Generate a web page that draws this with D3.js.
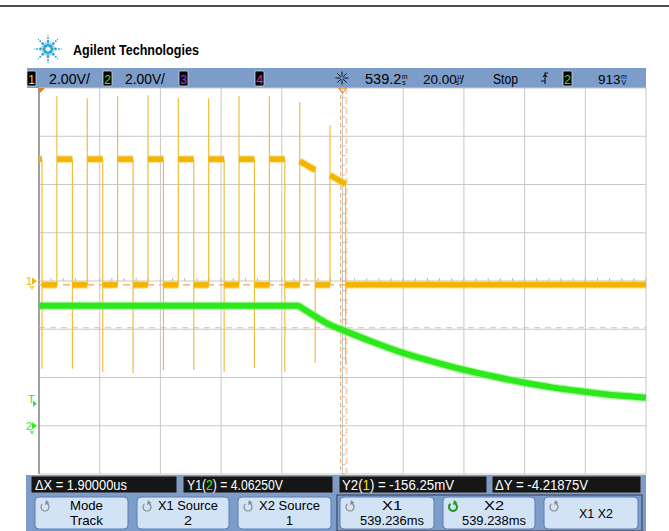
<!DOCTYPE html>
<html><head><meta charset="utf-8">
<script src="https://cdn.jsdelivr.net/npm/d3@7"></script>
<style>body{margin:0;background:#fff}svg{display:block}</style>
</head><body><svg id="c" width="669" height="531"></svg>
<script>
// ---------------- data ----------------
const timeDomain = [-100, 100];          // µs around display centre (539.2 ms), 20 µs/div
const timeTicks = [-100, -80, -60, -40, -20, 0, 20, 40, 60, 80, 100];
const ch1Domain = [-8, 8];               // V, 2.00 V/div, ground at centre
const ch2Domain = [-2, 14];              // V, 2.00 V/div, ground 3 div below centre
const voltTicks1 = [-8, -6, -4, -2, 0, 2, 4, 6, 8];

// channel 1 (yellow): digital clock
const ch1FallT = [-99.0, -89.0, -79.0, -69.0, -59.0, -49.0, -39.0, -29.0, -19.0, -9.0, 1.0];
const ch1RiseT = [-94.1, -84.1, -74.1, -64.1, -54.1, -44.1, -34.1, -24.1, -14.1, -4.1];
const ch1HighStartV = [5.05, 5.05, 5.05, 5.05, 5.05, 5.05, 5.05, 5.05, 4.97, 4.39];
const ch1HighEndV   = [5.05, 5.05, 5.05, 5.05, 5.05, 5.05, 5.05, 5.05, 4.60, 4.02];
const ch1FirstHighV = 5.05;
const ch1LowV = -0.16;
const ch1SpikeTopV = [7.66, 7.58, 7.66, 7.70, 7.58, 7.58, 7.66, 7.66, 7.41, 6.46];
const ch1SpikeBotV = [-3.64, -3.64, -3.77, -3.81, -3.69, -3.69, -3.77, -3.60, -3.77, -3.40, -3.48];

// channel 2 (green): supply decay
const ch2T = [-100, -15.0, -12.4, -8.7, -4.1, -0.2, 9.8, 19.9, 30.1, 40.0, 50.2, 60.1, 70.0, 79.9, 90.1, 100];
const ch2V = [4.97, 4.97, 4.80, 4.51, 4.18, 3.98, 3.48, 3.02, 2.65, 2.32, 2.03, 1.78, 1.57, 1.41, 1.26, 1.16];

const cursorXT = [-0.6, 1.3];       // X1, X2
const cursorY1V = 4.0625;           // on ch2
const cursorY2V = -0.15625;         // on ch1
const trigLevelV = 0.913;           // ch2

const headerScale = ["2.00V/", "2.00V/"];
const headerDelay = ["539.2", "m", "s", ""];
const headerTime = ["20.00", "µ", "s", "/"];
const headerTrig = ["913", "m", "V", ""];
const readouts = [["ΔX = 1.90000us"], ["Y1(", "2", ") = 4.06250V"], ["Y2(", "1", ") = -156.25mV"], ["ΔY = -4.21875V"]];
const softkeys = [["Mode", "Track"], ["X1 Source", "2"], ["X2 Source", "1"], ["X1", "539.236ms"], ["X2", "539.238ms"], ["X1 X2"]];

// ---------------- drawing ----------------
const svg = d3.select("#c");
const FONT = "'Liberation Sans',Arial,sans-serif";
const Y1C = "#f4b400", G = "#2ee81e";

const x = d3.scaleLinear().domain(timeDomain).range([39, 646]);
const y1 = d3.scaleLinear().domain(ch1Domain).range([474, 88]);
const y2 = d3.scaleLinear().domain(ch2Domain).range([474, 88]);

function txt(g, s, px, py, opt = {}) {
  return g.append("text").attr("x", px).attr("y", py).text(s)
    .attr("font-family", opt.family || FONT).attr("font-size", opt.size || 14)
    .attr("fill", opt.fill || "#000").attr("font-weight", opt.weight || "normal")
    .attr("text-anchor", opt.anchor || "start");
}
// horizontally condensed text: parts = [[string, colour], ...], squeezed to width w
function fit(g, parts, px, py, w, opt = {}) {
  const t = g.append("text").attr("x", 0).attr("y", 0)
    .attr("font-family", FONT).attr("font-size", opt.size || 14)
    .attr("font-weight", opt.weight || "normal").attr("fill", opt.fill || "#000");
  parts.forEach(([s, c]) => t.append("tspan").text(s).attr("fill", c || opt.fill || "#000"));
  const len = t.node().getComputedTextLength() || w;
  const sx = w / len;
  const left = opt.anchor === "middle" ? px - w / 2 : px;
  t.attr("transform", `translate(${left},${py}) scale(${sx},1)`);
  return t;
}
// number with stacked small unit (one text element)
function stacked(g, parts, px, py, size) {
  const t = g.append("text").attr("x", px).attr("y", py)
    .attr("font-family", FONT).attr("font-size", size).attr("fill", "#000");
  t.append("tspan").text(parts[0]);
  t.append("tspan").text(parts[1]).attr("font-size", 7).attr("dx", 0.5).attr("dy", -5.5);
  t.append("tspan").text(parts[2]).attr("font-size", 7).attr("dx", -5.5).attr("dy", 6.5);
  if (parts[3]) t.append("tspan").text(parts[3]).attr("dx", 0.8).attr("dy", -1);
  return t;
}

// top rule
svg.append("line").attr("x1", 0).attr("x2", 669).attr("y1", 6).attr("y2", 6).attr("stroke", "#111").attr("stroke-width", 1.5);

// logo
const logo = svg.append("g").attr("transform", "translate(48,49)");
for (let a = 0; a < 8; a++) {
  const ang = a * Math.PI / 4;
  [[4, 1.8], [7.5, 1.4], [11, 1.0], [13.5, 0.6]].forEach(([r, s]) => {
    logo.append("circle").attr("cx", r * Math.cos(ang)).attr("cy", r * Math.sin(ang)).attr("r", s).attr("fill", "#2aa0d4");
  });
}
for (let a = 0; a < 8; a++) {
  const ang = a * Math.PI / 4 + Math.PI / 8;
  logo.append("circle").attr("cx", 6 * Math.cos(ang)).attr("cy", 6 * Math.sin(ang)).attr("r", 0.9).attr("fill", "#7cc7e8");
}
fit(svg, [["Agilent Technologies"]], 73, 55, 126, { size: 14, weight: "bold" });

// header bar
const hb = svg.append("g");
hb.append("rect").attr("x", 27).attr("y", 68).attr("width", 619).attr("height", 20).attr("fill", "#7c9dca");
function chBox(g, px, label, col) {
  g.append("rect").attr("x", px).attr("y", 71).attr("width", 9).attr("height", 15).attr("rx", 1.5)
    .attr("fill", "#000").attr("stroke", "#d8d8d8").attr("stroke-width", 0.8);
  txt(g, label, px + 4.5, 83.5, { size: 12, fill: col, anchor: "middle" });
}
chBox(hb, 27, "1", "#f5e000");
fit(hb, [[headerScale[0]]], 49, 84, 41, { size: 15 });
chBox(hb, 103, "2", "#33ee22");
fit(hb, [[headerScale[1]]], 125, 84, 40, { size: 15 });
chBox(hb, 179, "3", "#b030ff");
chBox(hb, 255, "4", "#ff2a9a");
// acquisition icon
const ic = hb.append("g").attr("transform", "translate(342,78)");
for (let a = 0; a < 8; a++) {
  const ang = a * Math.PI / 4;
  ic.append("line").attr("x1", 3 * Math.cos(ang)).attr("y1", 3 * Math.sin(ang)).attr("x2", 6.5 * Math.cos(ang)).attr("y2", 6.5 * Math.sin(ang)).attr("stroke", "#111").attr("stroke-width", 1);
}
ic.append("circle").attr("r", 2.2).attr("fill", "none").attr("stroke", "#111").attr("stroke-width", 0.8);
stacked(hb, headerDelay, 365, 84, 14.5);
stacked(hb, headerTime, 423, 84, 13.5);
fit(hb, [["Stop"]], 493, 84, 25, { size: 15 });
// trigger edge symbol
hb.append("path").attr("d", "M541,81 L545,81 L545,73 L548,73 M543,77 L545,74.5 L547,77 M545,81 L545,84").attr("fill", "none").attr("stroke", "#111").attr("stroke-width", 1.1);
chBox(hb, 563, "2", "#33ee22");
stacked(hb, headerTrig, 598, 84, 13.5);

// plot area
const plot = svg.append("g");
plot.selectAll("line.vg").data(timeTicks).join("line").attr("class", "vg")
  .attr("x1", d => x(d)).attr("x2", d => x(d)).attr("y1", 88).attr("y2", 474)
  .attr("stroke", "#c8c8c8").attr("stroke-width", 1);
plot.selectAll("line.hg").data(voltTicks1).join("line").attr("class", "hg")
  .attr("x1", 39).attr("x2", 646).attr("y1", d => y1(d)).attr("y2", d => y1(d))
  .attr("stroke", "#c8c8c8").attr("stroke-width", 1);
plot.append("line").attr("x1", 39).attr("x2", 39).attr("y1", 88).attr("y2", 474).attr("stroke", "#a0a0a0").attr("stroke-width", 2);
// minor ticks on centre axes
const minorV = d3.range(-8, 8.01, 0.4);
plot.selectAll("line.mv").data(minorV).join("line").attr("class", "mv")
  .attr("x1", x(0)).attr("x2", x(0) + 3).attr("y1", d => y1(d)).attr("y2", d => y1(d))
  .attr("stroke", "#b8b8b8").attr("stroke-width", 1);
const minorT = d3.range(-100, 100.01, 4);
plot.selectAll("line.mt").data(minorT).join("line").attr("class", "mt")
  .attr("x1", d => x(d)).attr("x2", d => x(d)).attr("y1", y1(0)).attr("y2", y1(0) - 3)
  .attr("stroke", "#b8b8b8").attr("stroke-width", 1);

// cursors (behind traces)
plot.append("line").attr("x1", x(cursorXT[1])).attr("x2", x(cursorXT[1])).attr("y1", 88).attr("y2", 474)
  .attr("stroke", "#fcd6b4").attr("stroke-width", 2.2).attr("stroke-dasharray", "6,4");
plot.append("line").attr("x1", x(cursorXT[0])).attr("x2", x(cursorXT[0])).attr("y1", 88).attr("y2", 474)
  .attr("stroke", "#f6a25a").attr("stroke-width", 1).attr("stroke-dasharray", "4,3");
plot.append("line").attr("x1", 39).attr("x2", 646).attr("y1", y2(cursorY1V)).attr("y2", y2(cursorY1V))
  .attr("stroke", "#f7b68a").attr("stroke-width", 1).attr("stroke-dasharray", "6,5");
plot.append("line").attr("x1", 39).attr("x2", 646).attr("y1", y1(cursorY2V)).attr("y2", y1(cursorY2V))
  .attr("stroke", "#f7b080").attr("stroke-width", 1.4).attr("stroke-dasharray", "7,5");

// channel 1 segments
const segs = [];
segs.push([timeDomain[0], ch1FallT[0], ch1FirstHighV, ch1FirstHighV]);
ch1RiseT.forEach((r, i) => {
  segs.push([ch1FallT[i], r, ch1LowV, ch1LowV]);
  segs.push([r, ch1FallT[i + 1], ch1HighStartV[i], ch1HighEndV[i]]);
});
segs.push([ch1FallT[ch1FallT.length - 1], timeDomain[1], ch1LowV, ch1LowV]);
const edges = [];
ch1RiseT.forEach((r, i) => edges.push([r, ch1LowV, ch1SpikeTopV[i]]));
ch1FallT.forEach((f, i) => {
  const from = i === 0 ? ch1FirstHighV : ch1HighEndV[i - 1];
  edges.push([f, from, ch1SpikeBotV[i]]);
});
plot.selectAll("line.e1").data(edges).join("line").attr("class", "e1")
  .attr("x1", d => x(d[0])).attr("x2", d => x(d[0])).attr("y1", d => y1(d[1])).attr("y2", d => y1(d[2]))
  .attr("stroke", "#efbe3a").attr("stroke-width", 1.2);
plot.selectAll("line.s1h").data(segs).join("line").attr("class", "s1h")
  .attr("x1", d => x(d[0])).attr("x2", d => x(d[1])).attr("y1", d => y1(d[2])).attr("y2", d => y1(d[3]))
  .attr("stroke", "#f8cf55").attr("stroke-width", 8).attr("stroke-opacity", 0.55);
plot.selectAll("line.s1").data(segs).join("line").attr("class", "s1")
  .attr("x1", d => x(d[0])).attr("x2", d => x(d[1])).attr("y1", d => y1(d[2])).attr("y2", d => y1(d[3]))
  .attr("stroke", Y1C).attr("stroke-width", 5.5);

// channel 2 trace
const ch2 = ch2T.map((t, i) => [t, ch2V[i]]);
const line2 = d3.line().x(d => x(d[0])).y(d => y2(d[1])).curve(d3.curveMonotoneX);
plot.append("path").attr("d", line2(ch2)).attr("fill", "none").attr("stroke", "#7ef56a").attr("stroke-width", 8.5).attr("stroke-opacity", 0.6);
plot.append("path").attr("d", line2(ch2)).attr("fill", "none").attr("stroke", G).attr("stroke-width", 6);

// top markers
plot.append("path").attr("d", `M39,88 L45,88 L39,94 Z`).attr("fill", "#f07c10");
plot.append("path").attr("d", `M${x(0) - 4},88 L${x(0) + 4},88 L${x(0)},93 Z`).attr("fill", "none").attr("stroke", "#f49040").attr("stroke-width", 1.2);

// left markers
function marker(label, py, col) {
  txt(svg, label, 26, py + 4, { size: 11, fill: col });
  svg.append("path").attr("d", `M32,${py - 3.5} L37,${py} L32,${py + 3.5} Z`).attr("fill", col);
  svg.append("path").attr("d", `M29,${py + 5} L35,${py + 5} L32,${py + 9} Z`).attr("fill", col).attr("opacity", 0.6);
}
marker("1", y1(0), Y1C);
marker("2", y2(0), G);
txt(svg, "T", 28, y2(trigLevelV) - 1, { size: 11, fill: G });
svg.append("path").attr("d", `M33,${y2(trigLevelV) - 3} L37,${y2(trigLevelV)} L33,${y2(trigLevelV) + 3} Z`).attr("fill", G);

// bottom panel
const bp = svg.append("g");
bp.append("rect").attr("x", 26).attr("y", 475).attr("width", 620).attr("height", 56).attr("fill", "#7c9dca");
const boxes = [[31, 146], [183, 150], [339, 148], [492, 149]];
const textX = [35, 187, 342, 495];
const textW = [92, 96, 112, 93];
const innerCol = [null, "#33ee22", "#f5e000", null];
boxes.forEach((b, i) => {
  bp.append("rect").attr("x", b[0]).attr("y", 476).attr("width", b[1]).attr("height", 17).attr("rx", 1.5)
    .attr("fill", "#161616").attr("stroke", "#8d9bb0").attr("stroke-width", 1);
  fit(bp, readouts[i].map((s, k) => [s, k === 1 ? innerCol[i] : "#fff"]), textX[i], 490, textW[i], { size: 14, fill: "#fff" });
});
// softkeys
const keyX = [[35, 93], [137, 92], [238, 93], [340, 94], [443, 92], [544, 94]];
bp.append("rect").attr("x", 337).attr("y", 495).attr("width", 305).attr("height", 36).attr("fill", "none").attr("stroke", "#3b4a66").attr("stroke-width", 1.2);
const line1W = [33, 60, 61, 20, 20, 34];
const line2W = [33, 8, 7, 64, 64, 0];
softkeys.forEach((k, i) => {
  const [kx, kw] = keyX[i];
  bp.append("rect").attr("x", kx).attr("y", 497).attr("width", kw).attr("height", 32).attr("rx", 4)
    .attr("fill", "#d3e3f6").attr("stroke", "#5c7db0").attr("stroke-width", 1);
  // rotate icon
  const icx = kx + 10, icy = 507;
  const green = i === 4;
  bp.append("path").attr("d", d3.arc()({ innerRadius: 4, outerRadius: 4, startAngle: 0.6, endAngle: 5.6 }))
    .attr("transform", `translate(${icx},${icy})`).attr("fill", "none")
    .attr("stroke", green ? "#1a9a1a" : "#8a8a8a").attr("stroke-width", green ? 2 : 1.2);
  bp.append("path").attr("d", `M${icx + 1},${icy - 7} L${icx + 4.5},${icy - 4} L${icx},${icy - 2} Z`).attr("fill", green ? "#1a9a1a" : "#8a8a8a");
  const cxm = kx + kw / 2 + 5;
  if (k.length === 2) {
    fit(bp, [[k[0]]], cxm, 510, line1W[i], { anchor: "middle", size: 13 });
    fit(bp, [[k[1]]], cxm, 525, line2W[i], { anchor: "middle", size: 13 });
  } else {
    fit(bp, [[k[0]]], cxm, 518, line1W[i], { anchor: "middle", size: 13 });
  }
});
</script></body></html>
